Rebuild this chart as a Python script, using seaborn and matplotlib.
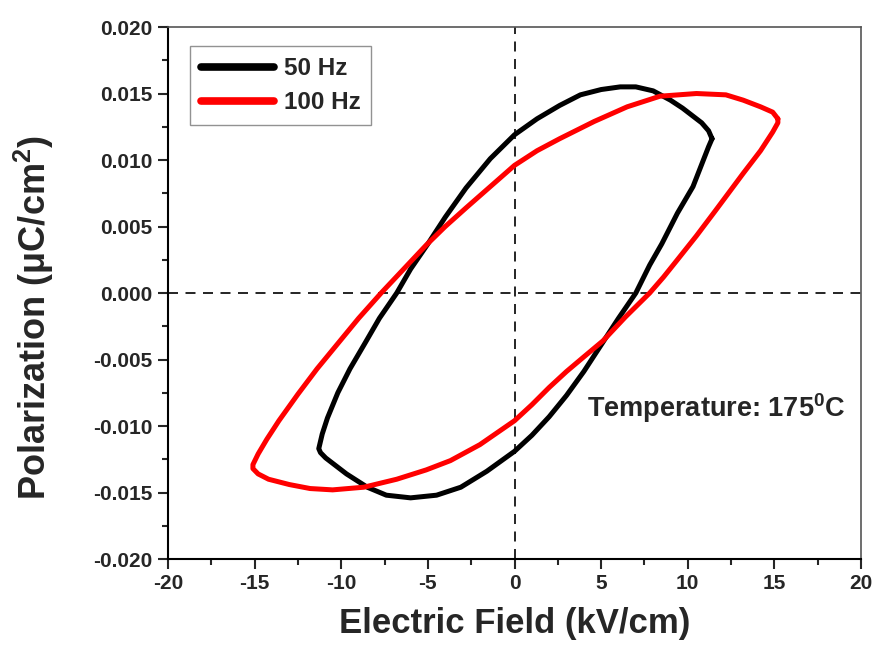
import matplotlib
matplotlib.use("Agg")
import matplotlib.pyplot as plt
from matplotlib.ticker import MultipleLocator, FormatStrFormatter
import seaborn as sns
import pandas as pd

# 50 Hz loop (electric field kV/cm, polarization uC/cm^2), traced around the loop
field_50 = [11.4, 11.2, 10.8, 10.3, 9.7, 9.0, 8.0, 7.0, 6.1, 5.0, 3.8, 2.6, 1.3, 0.0,
            -1.4, -2.8, -4.0, -5.0, -6.0, -6.8, -7.8, -8.6, -9.5, -10.2, -10.8,
            -11.1, -11.3,
            -11.2, -10.9, -10.4, -9.7, -9.1, -8.5, -7.4, -6.0, -4.5, -3.1, -1.6, 0.0,
            1.0, 2.0, 3.0, 4.0, 5.1, 6.0, 7.0, 7.8, 8.5, 9.4, 10.3, 10.9, 11.2, 11.4]
pol_50 = [0.0116, 0.0122, 0.0128, 0.0133, 0.0139, 0.0145, 0.0152, 0.0155, 0.0155,
          0.0153, 0.0149, 0.0141, 0.0131, 0.0119,
          0.0101, 0.0079, 0.0057, 0.0037, 0.0018, 0.0, -0.0019, -0.0037, -0.0057,
          -0.0075, -0.0094, -0.0106, -0.0117,
          -0.0120, -0.0124, -0.0129, -0.0136, -0.0141, -0.0146, -0.0152, -0.0154,
          -0.0152, -0.0146, -0.0134, -0.0119,
          -0.0107, -0.0093, -0.0077, -0.0059, -0.0037, -0.0019, 0.0, 0.0021,
          0.0037, 0.0060, 0.0080, 0.0100, 0.0110, 0.0116]

# 100 Hz loop
field_100 = [15.2, 14.9, 14.2, 13.2, 12.2, 10.5, 8.4, 6.5, 4.6, 2.6, 1.3, 0.0,
             -1.4, -2.8, -4.0, -5.1, -6.4, -7.7, -9.0, -10.2, -11.4, -12.5,
             -13.6, -14.3, -14.8, -15.1, -15.1,
             -14.8, -14.2, -13.0, -11.8, -10.5, -8.7, -6.8, -5.1, -3.7, -2.0, 0.0,
             1.0, 2.0, 3.0, 4.0, 5.1, 6.4, 7.8, 8.6, 9.4, 10.5, 11.6, 12.4, 13.2,
             14.2, 14.9, 15.2, 15.2]
pol_100 = [0.0131, 0.0136, 0.0140, 0.0145, 0.0149, 0.0150, 0.0148, 0.0140, 0.0129,
           0.0116, 0.0107, 0.0096,
           0.0080, 0.0064, 0.0050, 0.0036, 0.0018, 0.0, -0.0019, -0.0038, -0.0057,
           -0.0076, -0.0096, -0.0110, -0.0121, -0.0129, -0.0132,
           -0.0136, -0.0140, -0.0144, -0.0147, -0.0148, -0.0146, -0.0140, -0.0133,
           -0.0126, -0.0114, -0.0096,
           -0.0084, -0.0071, -0.0059, -0.0048, -0.0036, -0.0018, 0.0, 0.0012,
           0.0025, 0.0043, 0.0062, 0.0076, 0.0090, 0.0107, 0.0121, 0.0128, 0.0131]

labels = ["50 Hz", "100 Hz"]
colors = ["#000000", "#ff0000"]
x_ticks = [-20, -15, -10, -5, 0, 5, 10, 15, 20]
y_ticks = [-0.020, -0.015, -0.010, -0.005, 0.000, 0.005, 0.010, 0.015, 0.020]

df = pd.concat([
    pd.DataFrame({"E": field_50, "P": pol_50, "freq": labels[0]}),
    pd.DataFrame({"E": field_100, "P": pol_100, "freq": labels[1]}),
], ignore_index=True)

sns.set_style("ticks")
plt.rcParams["font.family"] = ["Liberation Sans", "DejaVu Sans"]
plt.rcParams["axes.unicode_minus"] = False
plt.rcParams["mathtext.fontset"] = "custom"
plt.rcParams["mathtext.rm"] = "Liberation Sans:bold"
plt.rcParams["mathtext.bf"] = "Liberation Sans:bold"
plt.rcParams["mathtext.it"] = "Liberation Sans:bold"

fig = plt.figure(figsize=(8.77, 6.59), dpi=100)
ax = fig.add_axes([0.1916, 0.1517, 0.7902, 0.8073])

ax.axhline(0, color="black", lw=1.2, ls=(0, (6, 4.5)), zorder=1)
ax.axvline(0, color="black", lw=1.2, ls=(0, (6, 4.5)), zorder=1)

sns.lineplot(data=df, x="E", y="P", hue="freq", palette=dict(zip(labels, colors)),
             sort=False, estimator=None, lw=3.6, ax=ax, zorder=3)

ax.set_xlim(-20, 20)
ax.set_ylim(-0.020, 0.020)
ax.set_xticks(x_ticks)
ax.set_yticks(y_ticks)
ax.xaxis.set_minor_locator(MultipleLocator(2.5))
ax.yaxis.set_minor_locator(MultipleLocator(0.0025))
ax.yaxis.set_major_formatter(FormatStrFormatter("%.3f"))
ax.tick_params(axis="both", which="major", direction="out", length=7, width=1.5,
               labelsize=15, pad=4, top=False, right=False)
ax.tick_params(axis="both", which="minor", direction="out", length=4, width=1.5,
               top=False, right=False)
for lab in ax.get_xticklabels() + ax.get_yticklabels():
    lab.set_fontweight("bold")

for s in ["left", "bottom"]:
    ax.spines[s].set_linewidth(1.5)
    ax.spines[s].set_color("black")
for s in ["top", "right"]:
    ax.spines[s].set_linewidth(1.2)
    ax.spines[s].set_color("#555555")

ax.set_xlabel("Electric Field (kV/cm)", fontsize=25, fontweight="bold", labelpad=10)
ax.set_ylabel(r"Polarization ($\mu$C/cm$^{\mathbf{2}}$)", fontsize=26,
              fontweight="bold")
ax.yaxis.set_label_coords(-0.162, 0.453)

ax.text(0.978, 0.284, r"Temperature: 175$^{0}$C", transform=ax.transAxes,
        ha="right", va="center", fontsize=19.5, fontweight="bold")

leg = ax.legend(loc="upper left", bbox_to_anchor=(0.032, 0.964), borderaxespad=0,
                frameon=True, fancybox=False, handlelength=3.0, handletextpad=0.4,
                borderpad=0.45, labelspacing=0.45, prop={"weight": "bold", "size": 17.5})
leg.get_frame().set_edgecolor("#777777")
leg.get_frame().set_linewidth(1.0)
for h in leg.get_lines():
    h.set_linewidth(5.5)
    h.set_solid_capstyle("round")

fig.savefig("out.png", dpi=100)
